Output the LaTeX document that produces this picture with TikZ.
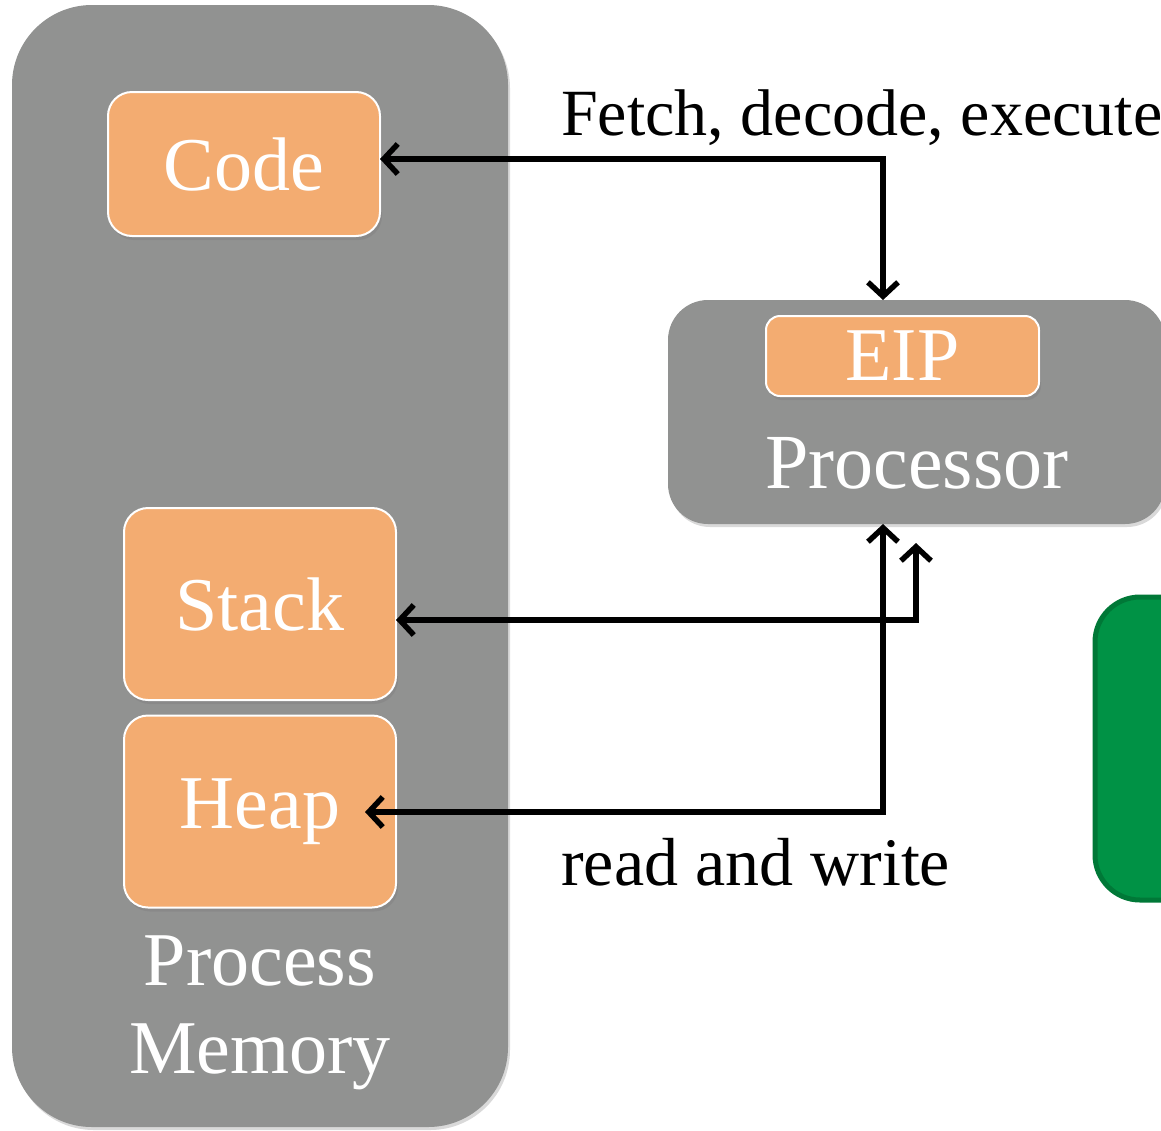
\documentclass[tikz,border=0pt]{standalone}
\usepackage{fontspec}
\setmainfont{Liberation Serif}
\usetikzlibrary{arrows.meta,shadows}
\definecolor{boxgray}{RGB}{145,146,145}
\definecolor{segorange}{RGB}{243,172,113}
\definecolor{cpugreen}{RGB}{0,146,69}
\definecolor{cpugreenedge}{RGB}{0,120,55}
\newcommand{\boxfont}{\fontsize{76}{88}\selectfont}
\newcommand{\lblfont}{\fontsize{68}{72}\selectfont}

\begin{document}
\begin{tikzpicture}[x=1pt,y=-1pt,
  panel/.style = {rectangle,fill=boxgray,rounded corners=#1,inner sep=0pt,outer sep=0pt,
                  drop shadow={opacity=0.3,shadow xshift=2pt,shadow yshift=-3pt}},
  seg/.style = {rectangle,fill=segorange,draw=white,line width=2pt,rounded corners=24pt,
                inner sep=0pt,outer sep=0pt,text=white,font=\boxfont,
                drop shadow={opacity=0.45,shadow xshift=2pt,shadow yshift=-4pt}},
  conn/.style = {line width=5.5pt,{Straight Barb[length=14pt,width=30pt]}-{Straight Barb[length=14pt,width=30pt]}}]
\useasboundingbox (0,0) rectangle (1161,1130);
\node[panel=80pt,minimum width=496pt,minimum height=1122pt] (mem) at (260,566) {};
\node[panel=40pt,minimum width=497pt,minimum height=224pt] (proc) at (916.5,412) {};
\node[rectangle,fill=cpugreen,draw=cpugreenedge,line width=5pt,rounded corners=45pt,
      minimum width=160pt,minimum height=303pt] (green) at (1175,748.5) {};
\node[seg,minimum width=272pt,minimum height=144pt] (code) at (244,164) {Code};
\foreach \name/\lbl/\y in {stack/Stack/604, heap/Heap/811.5}
    \node[seg,minimum width=272pt,minimum height=192pt] (\name) at (260,\y) {\lbl};
\node[seg,rounded corners=14pt,minimum width=273pt,minimum height=80pt] (eip) at (902.5,356) {EIP};
\node[text=white,font=\fontsize{78}{88}\selectfont] (proclbl) at (917,463) {Processor};
\node[text=white,font=\boxfont,align=center] (memlbl) at (260,1013) {Process\\Memory};
\node[anchor=base west,font=\fontsize{66}{72}\selectfont,inner sep=0pt] (fetch) at (561,135) {Fetch, decode, execute};
\node[anchor=base west,font=\lblfont,inner sep=0pt] (rw) at (561,885) {read and write};
\coordinate (fetchturn) at (883,159);
\coordinate (stackturn) at (916,620);
\coordinate (heapturn) at (883,812);
\draw[conn] (code.east |- fetchturn) -- (fetchturn) -- (fetchturn |- proc.north);
\draw[conn] (stack.east |- stackturn) -- (stackturn) -- ([yshift=-19pt]stackturn |- proc.south);
\draw[conn] ([xshift=-31pt]heap.east |- heapturn) -- (heapturn) -- (heapturn |- proc.south);
\end{tikzpicture}
\end{document}
